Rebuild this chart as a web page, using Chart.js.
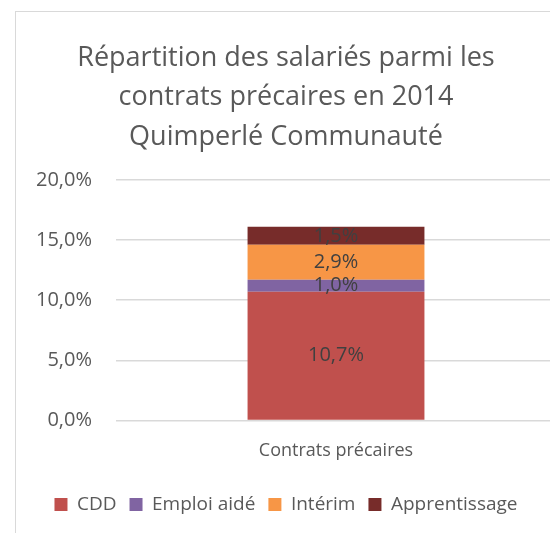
<!DOCTYPE html>
<html>
<head>
<meta charset="utf-8">
<script src="https://cdn.jsdelivr.net/npm/chart.js@4"></script>
<style>
  html, body { margin: 0; padding: 0; background: #fff; overflow: hidden; }
  #box {
    position: absolute; left: 15px; top: 11px;
    width: 540px; height: 522px;
    border-top: 1px solid #d9d9d9; border-left: 1px solid #d9d9d9;
  }
</style>
</head>
<body>
<div id="box"><canvas id="chart" width="540" height="522"></canvas></div>
<script>
var categories = ["Contrats précaires"];
var seriesNames = ["CDD", "Emploi aidé", "Intérim", "Apprentissage"];
var cdd = [10.7];
var emploiAide = [1.0];
var interim = [2.9];
var apprentissage = [1.5];
var yTicks = [0, 5, 10, 15, 20];

var colors = ["#C0504D", "#8064A2", "#F79646", "#772C2A"];
var seriesValues = [cdd, emploiAide, interim, apprentissage];

function frPct(v) {
    return v.toFixed(1).replace(".", ",") + "%";
}

// labels au centre de chaque segment
var segmentLabels = {
    id: "segmentLabels",
    afterDatasetsDraw: function(chart) {
        var ctx = chart.ctx;
        ctx.save();
        ctx.font = "20px 'Open Sans'";
        ctx.fillStyle = "#404040";
        ctx.textAlign = "center";
        ctx.textBaseline = "middle";
        chart.data.datasets.forEach(function(ds, i) {
            chart.getDatasetMeta(i).data.forEach(function(bar, j) {
                var mid = (bar.y + bar.base) / 2;
                ctx.fillText(frPct(ds.data[j]), bar.x, mid);
            });
        });
        ctx.restore();
    }
};

var datasets = seriesNames.map(function(name, i) {
    return {
        label: name,
        data: seriesValues[i],
        backgroundColor: colors[i],
        borderWidth: 0,
        barPercentage: 0.402,
        categoryPercentage: 1
    };
});

new Chart(document.getElementById("chart"), {
    type: "bar",
    data: { labels: categories, datasets: datasets },
    plugins: [segmentLabels],
    options: {
        responsive: false,
        animation: false,
        layout: { padding: { left: 0, right: 0, top: 0, bottom: 10 } },
        plugins: {
            title: {
                display: true,
                text: ["Répartition des salariés parmi les", "contrats précaires en 2014", "Quimperlé Communauté"],
                color: "#595959",
                font: { family: "'Open Sans'", size: 27, weight: "normal", lineHeight: 1.45 },
                padding: { top: 27, bottom: 23.5 }
            },
            legend: {
                position: "bottom",
                labels: {
                    color: "#595959",
                    font: { family: "'Open Sans'", size: 19 },
                    boxWidth: 13,
                    boxHeight: 13,
                    padding: 13
                }
            },
            tooltip: { enabled: false }
        },
        scales: {
            x: {
                stacked: true,
                grid: { display: false },
                border: { display: false },
                afterFit: function(scale) { scale.height += 8; },
                ticks: { color: "#595959", font: { family: "'Open Sans'", size: 18 }, padding: 12 }
            },
            y: {
                stacked: true,
                min: 0,
                max: 20,
                afterBuildTicks: function(scale) {
                    scale.ticks = yTicks.map(function(v) { return { value: v }; });
                },
                afterFit: function(scale) { scale.width = 100; },
                grid: { color: "#d9d9d9", lineWidth: 1.5, drawTicks: false },
                border: { display: false },
                ticks: {
                    color: "#595959",
                    font: { family: "'Open Sans'", size: 20 },
                    padding: 24,
                    callback: function(v) { return frPct(v); }
                }
            }
        }
    }
});
</script>
</body>
</html>
